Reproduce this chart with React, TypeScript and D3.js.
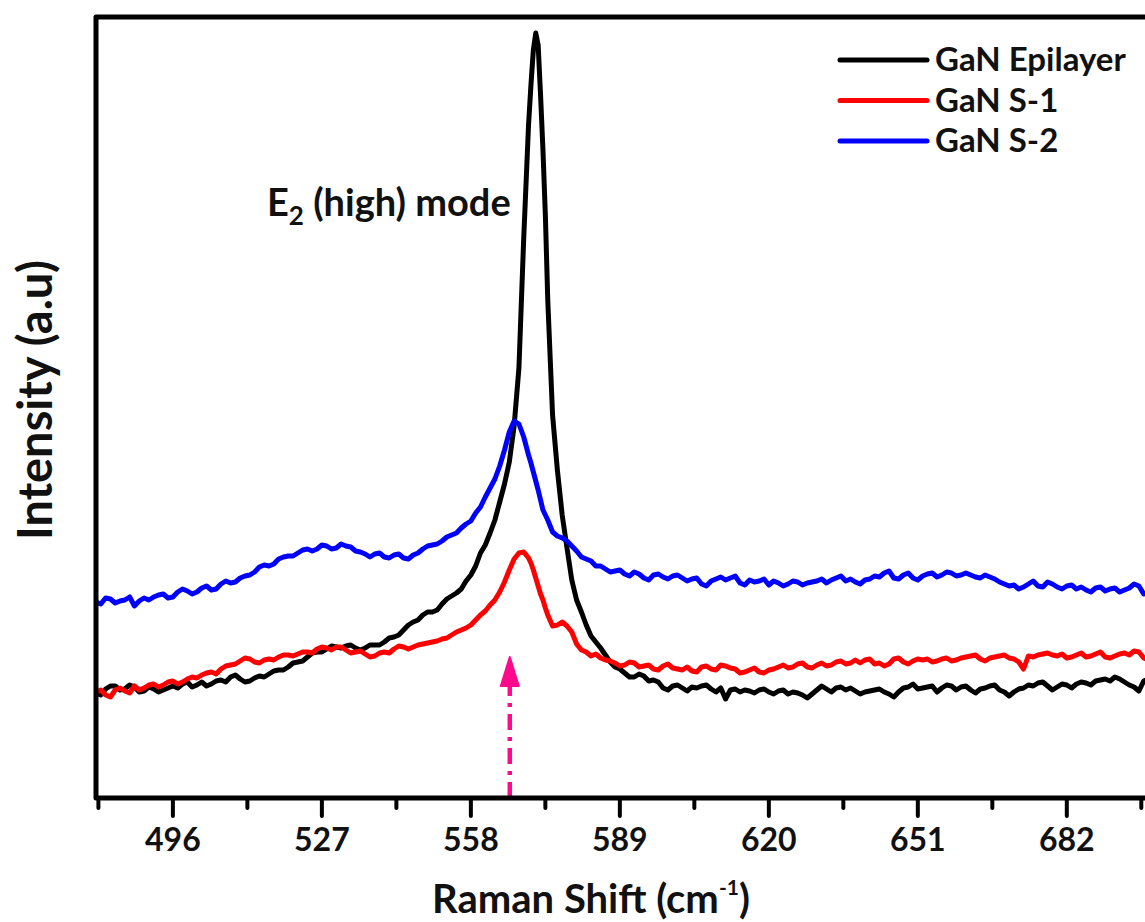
import React, { useMemo } from "react";
import * as d3 from "d3";

// Raman shift grid (cm^-1)
const ramanShift: number[] = [
  480, 481, 482, 483, 484, 485, 486, 487, 488, 489, 490, 491, 492, 493, 494, 495, 496, 497, 498, 499,
  500, 501, 502, 503, 504, 505, 506, 507, 508, 509, 510, 511, 512, 513, 514, 515, 516, 517, 518, 519,
  520, 521, 522, 523, 524, 525, 526, 527, 528, 529, 530, 531, 532, 533, 534, 535, 536, 537, 538, 539,
  540, 541, 542, 543, 544, 545, 546, 547, 548, 549, 550, 551, 552, 553, 554, 555, 556, 557, 558,
  559, 560, 561, 562, 563, 564, 565, 566, 567, 568, 569, 570,
  570.5, 571, 571.5, 572, 572.5, 573, 573.5, 574,
  575, 576, 577, 578, 579, 580, 581, 582, 583, 584, 585, 586,
  587, 588, 589, 590, 591, 592, 593, 594, 595, 596,
  597, 598, 599, 600, 601, 602, 603, 604, 605, 606,
  607, 608, 609, 610, 611, 612, 613, 614, 615, 616,
  617, 618, 619, 620, 621, 622, 623, 624, 625, 626,
  627, 628, 629, 630, 631, 632, 633, 634, 635, 636,
  637, 638, 639, 640, 641, 642, 643, 644, 645, 646,
  647, 648, 649, 650, 651, 652, 653, 654, 655, 656,
  657, 658, 659, 660, 661, 662, 663, 664, 665, 666,
  667, 668, 669, 670, 671, 672, 673, 674, 675, 676,
  677, 678, 679, 680, 681, 682, 683, 684, 685, 686,
  687, 688, 689, 690, 691, 692, 693, 694, 695, 696,
  697, 698, 699, 700,
];

const epilayer: number[] = [
  105, 103, 109, 112, 112, 108, 109, 113, 111, 106, 107, 111, 109, 106, 108, 110, 112, 110, 114, 116,
  111, 113, 116, 112, 114, 117, 118, 116, 121, 123, 119, 116, 117, 120, 122, 121, 124, 127, 128, 128,
  131, 135, 136, 137, 141, 145, 146, 146, 149, 152, 151, 150, 152, 153, 150, 148, 150, 153, 153, 153,
  156, 160, 161, 163, 168, 173, 176, 178, 183, 186, 186, 188, 194, 199, 202, 205, 209, 217, 223,
  232, 245, 253, 265, 278, 296, 314, 336, 372, 430, 560, 673,
  713, 748, 765, 753, 703, 648, 583, 498,
  383, 328, 283, 250, 218, 198, 186, 173, 162, 156, 150, 143,
  136, 131, 129, 125, 121, 121, 124, 122, 117, 118,
  116, 110, 108, 112, 113, 110, 107, 111, 110, 112,
  113, 109, 106, 110, 99, 108, 109, 106, 108, 107,
  105, 108, 109, 106, 104, 107, 108, 104, 106, 105,
  103, 100, 104, 108, 112, 109, 106, 110, 111, 108,
  110, 107, 104, 106, 107, 108, 109, 106, 104, 101,
  106, 110, 111, 114, 109, 110, 111, 112, 106, 110,
  113, 112, 108, 111, 112, 108, 105, 109, 110, 112,
  113, 108, 106, 102, 106, 109, 110, 113, 112, 115,
  116, 112, 108, 111, 114, 113, 110, 114, 116, 115,
  113, 117, 118, 119, 117, 121, 119, 116, 113, 111,
  107, 117, 119, 115,
];

const sampleS1: number[] = [
  106, 108, 103, 101, 108, 110, 107, 105, 112, 108, 110, 113, 114, 111, 113, 116, 117, 114, 116, 119,
  121, 120, 123, 125, 126, 124, 129, 132, 133, 134, 137, 140, 139, 136, 135, 138, 139, 138, 141, 143,
  143, 142, 144, 146, 146, 145, 149, 151, 150, 148, 151, 151, 148, 145, 146, 147, 144, 141, 142, 145,
  146, 145, 149, 152, 151, 149, 151, 153, 154, 155, 156, 157, 159, 160, 163, 166, 168, 170, 173,
  178, 183, 187, 193, 198, 206, 216, 228, 239, 245, 246, 240,
  235, 228, 220, 212, 204, 198, 190, 183,
  172, 173, 176, 172, 166, 154, 148, 146, 142, 144, 140, 138,
  137, 135, 132, 133, 136, 135, 131, 132, 133, 129,
  128, 132, 134, 130, 129, 128, 131, 127, 126, 131,
  132, 129, 128, 133, 132, 130, 129, 125, 126, 128,
  130, 126, 125, 128, 129, 131, 133, 130, 131, 134,
  135, 131, 130, 133, 135, 132, 133, 136, 137, 134,
  135, 138, 135, 138, 139, 134, 135, 132, 134, 139,
  140, 136, 134, 137, 139, 138, 139, 136, 137, 139,
  140, 137, 138, 140, 141, 142, 143, 139, 137, 140,
  141, 142, 143, 140, 139, 136, 129, 142, 141, 143,
  144, 145, 143, 142, 144, 140, 141, 143, 145, 141,
  142, 144, 146, 141, 140, 142, 144, 145, 143, 147,
  146, 140, 138, 142,
];

const sampleS2: number[] = [
  196, 194, 200, 199, 195, 197, 198, 201, 192, 197, 200, 198, 201, 203, 204, 200, 201, 206, 209, 207,
  204, 206, 210, 212, 208, 209, 214, 217, 215, 216, 220, 222, 223, 226, 231, 233, 232, 234, 239, 241,
  242, 242, 245, 248, 249, 247, 249, 253, 252, 249, 250, 254, 252, 251, 247, 246, 244, 241, 244, 245,
  241, 240, 243, 244, 240, 239, 243, 245, 249, 252, 253, 254, 257, 261, 263, 265, 270, 274, 277,
  285, 291, 301, 310, 319, 332, 348, 366, 377, 374, 361, 343,
  335, 326, 317, 308, 298, 288, 283, 278,
  266, 262, 260, 257, 252, 247, 241, 239, 237, 232, 232, 229,
  226, 227, 228, 224, 222, 226, 224, 220, 218, 223,
  224, 221, 219, 222, 223, 220, 217, 219, 220, 214,
  212, 217, 219, 221, 218, 220, 222, 215, 213, 218,
  216, 217, 219, 213, 217, 215, 212, 214, 217, 216,
  213, 215, 216, 217, 219, 215, 218, 220, 222, 217,
  219, 216, 214, 218, 219, 222, 221, 225, 227, 220,
  219, 223, 225, 220, 218, 222, 224, 225, 221, 223,
  226, 225, 222, 223, 225, 223, 221, 220, 223, 221,
  219, 216, 214, 212, 213, 209, 211, 214, 217, 212,
  211, 216, 214, 211, 209, 212, 213, 209, 211, 208,
  206, 210, 211, 207, 209, 210, 206, 208, 210, 214,
  212, 204, 205, 202,
];

const seriesNames = ["GaN Epilayer", "GaN S-1", "GaN S-2"];
const seriesColors = ["#000000", "#ff0000", "#0000ff"];
const majorTicks = [496, 527, 558, 589, 620, 651, 682];
const minorTicks = [480.5, 511.5, 542.5, 573.5, 604.5, 635.5, 666.5, 697.5];

// annotation arrow (E2 high position)
const arrowShift = 566.1;
const arrowTip = 141;
const arrowBase = 113;

const FONT = "Lato, 'Open Sans', sans-serif";

export default function App() {
  const W = 1145;
  const H = 922;
  const left = 96;
  const top = 17;
  const bottom = 798;

  const x = useMemo(() => d3.scaleLinear().domain([480, 720]).range([left, left + 240 * 4.806]), []);
  const y = useMemo(() => d3.scaleLinear().domain([0, 781]).range([bottom, top]), []);

  const line = d3
    .line<number>()
    .x((_, i) => x(ramanShift[i]))
    .y((d) => y(d));

  const allSeries = [epilayer, sampleS1, sampleS2];
  const drawOrder = [0, 1, 2];

  const ax = x(arrowShift);

  return (
    <svg
      width={W}
      height={H}
      style={{ position: "absolute", left: 0, top: 0, background: "#fff" }}
      fontFamily={FONT}
    >
      <defs>
        <clipPath id="plotClip">
          <rect x={left} y={top} width={W - left + 200} height={bottom - top} />
        </clipPath>
      </defs>

      {/* data lines */}
      <g clipPath="url(#plotClip)">
        {drawOrder.map((k) => (
          <path
            key={k}
            d={line(allSeries[k]) || ""}
            fill="none"
            stroke={seriesColors[k]}
            strokeWidth={5}
            strokeLinejoin="round"
            strokeLinecap="round"
          />
        ))}
      </g>

      {/* arrow */}
      <line
        x1={ax}
        x2={ax}
        y1={y(0)}
        y2={y(arrowBase)}
        stroke="#ff0a8c"
        strokeWidth={4.5}
        strokeDasharray="16,7,4,7"
        strokeLinecap="butt"
      />
      <path
        d={`M${ax - 9},${y(arrowBase) + 1} L${ax + 9},${y(arrowBase) + 1} L${ax},${y(arrowTip)} Z`}
        fill="#ff0a8c"
        stroke="#ff0a8c"
        strokeWidth={2}
        strokeLinejoin="round"
      />

      {/* frame */}
      <path
        d={`M${x(720) + 50},${top} L${left},${top} L${left},${bottom} L${x(720) + 50},${bottom}`}
        fill="none"
        stroke="#000"
        strokeWidth={5}
        strokeLinejoin="round"
      />

      {/* x ticks */}
      {majorTicks.map((t) => (
        <g key={"M" + t}>
          <line x1={x(t)} x2={x(t)} y1={bottom} y2={bottom + 18} stroke="#000" strokeWidth={4} strokeLinecap="round" />
          <text x={x(t)} y={bottom + 53} textAnchor="middle" fontSize={32} fontWeight={700} fill="#111">
            {t}
          </text>
        </g>
      ))}
      {minorTicks.map((t) => (
        <line key={"m" + t} x1={x(t)} x2={x(t)} y1={bottom} y2={bottom + 10} stroke="#000" strokeWidth={4} strokeLinecap="round" />
      ))}

      {/* axis titles */}
      <text x={591} y={913} textAnchor="middle" fontSize={40} fontWeight={700} fill="#111">
        Raman Shift (cm
        <tspan fontSize={21} dy={-18}>-1</tspan>
        <tspan dy={18}>)</tspan>
      </text>
      <text
        transform="translate(52,400) rotate(-90)"
        textAnchor="middle"
        fontSize={47}
        fontWeight={700}
        fill="#111"
      >
        Intensity (a.u)
      </text>

      {/* annotation */}
      <text x={267} y={216} fontSize={38} fontWeight={700} fill="#111">
        E
        <tspan fontSize={26} dy={9}>2</tspan>
        <tspan dy={-9}> (high) mode</tspan>
      </text>

      {/* legend */}
      {seriesNames.map((name, i) => {
        const ly = 60 + i * 40.5;
        return (
          <g key={name}>
            <line x1={840} x2={927} y1={ly} y2={ly} stroke={seriesColors[i]} strokeWidth={5} strokeLinecap="round" />
            <text x={935} y={ly + 11} fontSize={33} fontWeight={700} fill="#111">
              {name}
            </text>
          </g>
        );
      })}
    </svg>
  );
}
